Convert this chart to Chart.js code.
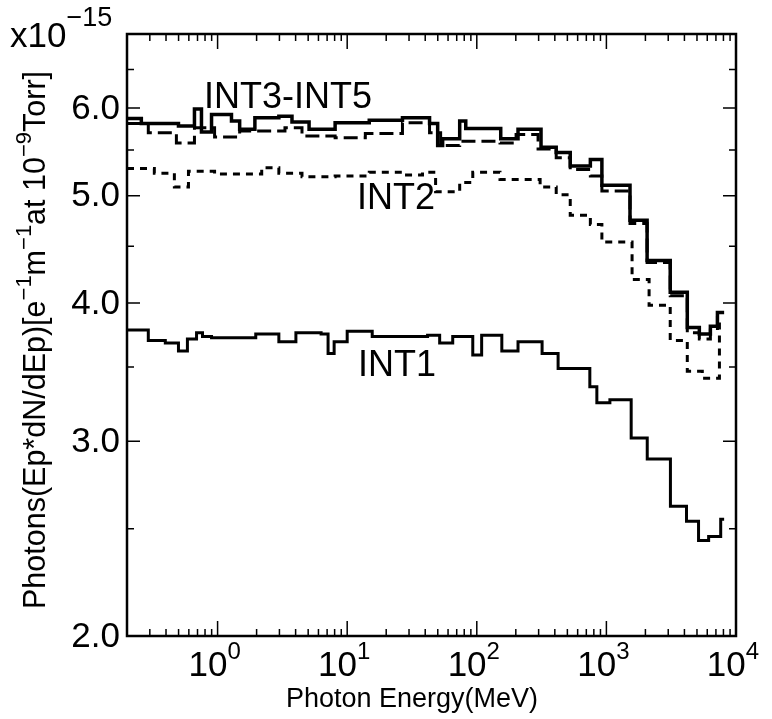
<!DOCTYPE html>
<html>
<head>
<meta charset="utf-8">
<script src="https://cdn.jsdelivr.net/npm/chart.js@4/dist/chart.umd.min.js"></script>
<style>
  html, body { margin: 0; padding: 0; background: #fff; }
</style>
</head>
<body>
<canvas id="photonChart" width="772" height="719"></canvas>
<script>
// photon spectra, values in units of 1e-15, bin edges in MeV

const int35Edges = [0.2, 0.258, 0.499, 0.663, 0.751, 0.898, 1.28, 1.48, 1.94, 2.97, 3.75, 5.08, 8.07, 14.8, 26.7, 43.2, 49.9, 54.5, 73.8, 82.2, 153, 208, 313, 410, 526, 752, 923, 1521, 2061, 3108, 4209, 5213, 6343, 7191, 8100];
const int35Values = [5.87, 5.81, 5.78, 5.99, 5.71, 5.92, 5.84, 5.74, 5.88, 5.90, 5.83, 5.74, 5.82, 5.85, 5.88, 5.81, 5.55, 5.63, 5.84, 5.75, 5.63, 5.74, 5.53, 5.47, 5.32, 5.39, 5.11, 4.75, 4.37, 4.09, 3.80, 3.75, 3.81, 3.92];

const int35bEdges = [0.2, 0.292, 0.481, 0.663, 0.948, 1.48, 3.31, 4.48, 8.07, 13.8, 26.7, 43.2, 52.6, 73.8, 151, 201, 297, 410, 526, 752, 923, 1521, 2061, 3108, 4209, 5213, 6343, 7191, 8100];
const int35bValues = [5.81, 5.70, 5.58, 5.76, 5.65, 5.72, 5.76, 5.66, 5.64, 5.69, 5.82, 5.70, 5.55, 5.60, 5.58, 5.68, 5.51, 5.41, 5.28, 5.21, 5.05, 4.72, 4.35, 4.06, 3.76, 3.71, 3.78, 3.88];

const int2Edges = [0.2, 0.325, 0.464, 0.596, 0.948, 2.19, 2.97, 4.48, 8.07, 14.8, 26.7, 38.1, 48.1, 73.8, 93.1, 151, 308, 410, 526, 752, 923, 1578, 2135, 3108, 4209, 5495, 7449, 8100];
const int2Values = [5.29, 5.24, 5.09, 5.26, 5.23, 5.30, 5.24, 5.20, 5.21, 5.25, 5.22, 5.25, 5.04, 5.14, 5.25, 5.17, 5.09, 5.01, 4.80, 4.71, 4.54, 4.20, 3.98, 3.70, 3.47, 3.42, 3.85];

const int1Edges = [0.2, 0.292, 0.395, 0.499, 0.585, 0.688, 0.765, 0.898, 1.97, 2.97, 4.02, 6.29, 7.12, 7.93, 10.0, 15.6, 41.7, 51.7, 65.2, 93.1, 109, 156, 208, 319, 424, 745, 844, 1064, 1553, 2066, 3119, 4150, 5140, 6150, 7620, 8100];
const int1Values = [3.78, 3.70, 3.68, 3.62, 3.71, 3.76, 3.73, 3.72, 3.75, 3.69, 3.76, 3.75, 3.60, 3.69, 3.77, 3.73, 3.74, 3.68, 3.73, 3.59, 3.74, 3.62, 3.69, 3.60, 3.49, 3.36, 3.25, 3.27, 3.02, 2.89, 2.62, 2.54, 2.44, 2.46, 2.55];

const yMajorTicks = [2, 3, 4, 5, 6];
const yMinorTicks = [2.5, 3.5, 4.5, 5.5, 6.5];
const xDecades = [1, 10, 100, 1000, 10000];
const xExponents = ["0", "1", "2", "3", "4"];

const FONT = '"Liberation Sans", Arial, Helvetica, sans-serif';

// histogram -> step points: value i holds from edge i to edge i+1
function steps(edges, values) {
  return edges.map((e, i) => ({ x: e, y: values[Math.min(i, values.length - 1)] }));
}

function drawSup(ctx, parts, x, y, big, small, rise) {
  // parts: [text, isSup]
  let cx = x;
  parts.forEach(([t, sup]) => {
    ctx.font = (sup ? small : big) + "px " + FONT;
    ctx.fillText(t, cx, sup ? y - rise : y);
    cx += ctx.measureText(t).width;
  });
  return cx - x;
}

function supWidth(ctx, parts, big, small) {
  let w = 0;
  parts.forEach(([t, sup]) => {
    ctx.font = (sup ? small : big) + "px " + FONT;
    w += ctx.measureText(t).width;
  });
  return w;
}

const framePlugin = {
  id: "frame",
  afterDraw(chart) {
    const { ctx, chartArea: a, scales } = chart;
    const xs = scales.x, ys = scales.y;
    ctx.save();
    ctx.strokeStyle = "#000";
    ctx.fillStyle = "#000";
    ctx.lineWidth = 2.5;
    ctx.strokeRect(a.left, a.top, a.right - a.left, a.bottom - a.top);

    // inward ticks on all four sides
    ctx.lineWidth = 1.5;
    ctx.beginPath();
    for (let d = 0.1; d <= 10000; d *= 10) {
      for (let m = 1; m <= 9; m++) {
        const v = m * d;
        if (v < 0.2 * 0.999 || v > 10000 * 1.001) continue;
        const px = xs.getPixelForValue(v);
        const len = m === 1 ? 15 : 7;
        ctx.moveTo(px, a.bottom); ctx.lineTo(px, a.bottom - len);
        ctx.moveTo(px, a.top); ctx.lineTo(px, a.top + len);
      }
    }
    yMajorTicks.concat(yMinorTicks).forEach(v => {
      const py = ys.getPixelForValue(v);
      const len = yMajorTicks.includes(v) ? 13 : 7;
      ctx.moveTo(a.left, py); ctx.lineTo(a.left + len, py);
      ctx.moveTo(a.right, py); ctx.lineTo(a.right - len, py);
    });
    ctx.stroke();

    // y tick labels
    ctx.font = "35px " + FONT;
    ctx.textAlign = "right";
    ctx.textBaseline = "middle";
    yMajorTicks.forEach(v => ctx.fillText(v.toFixed(1), a.left - 7, ys.getPixelForValue(v) + 1));

    // x tick labels 10^n
    ctx.textAlign = "left";
    ctx.textBaseline = "alphabetic";
    xDecades.forEach((v, i) => {
      const parts = [["10", false], [xExponents[i], true]];
      const w = supWidth(ctx, parts, 35, 24);
      const px = xs.getPixelForValue(v);
      drawSup(ctx, parts, px - w / 2 - 3, a.bottom + 40, 35, 24, 17);
    });

    // axis titles
    ctx.font = "27px " + FONT;
    ctx.textAlign = "center";
    ctx.fillText("Photon Energy(MeV)", 412, 707);

    ctx.textAlign = "left";
    drawSup(ctx, [["x10", false], ["\u221215", true]], 10, 47, 35, 27, 21);

    const yTitle = [["Photons(Ep*dN/dEp)[e", false], ["\u22121", true], ["m", false], ["\u22121", true],
      ["at 10", false], ["\u22129", true], ["Torr]", false]];
    ctx.save();
    ctx.translate(45, 340);
    ctx.rotate(-Math.PI / 2);
    const tw = supWidth(ctx, yTitle, 30.5, 22);
    drawSup(ctx, yTitle, -tw / 2, 0, 30.5, 22, 14);
    ctx.restore();

    // curve labels
    ctx.font = "36px " + FONT;
    ctx.fillText("INT3-INT5", 204, 108);
    ctx.fillText("INT2", 357, 209);
    ctx.fillText("INT1", 358, 376);
    ctx.restore();
  }
};

const lineStyle = { borderColor: "#000", borderWidth: 3, pointRadius: 0, fill: false, stepped: true, tension: 0 };

new Chart(document.getElementById("photonChart").getContext("2d"), {
  type: "line",
  data: {
    datasets: [
      { ...lineStyle, label: "INT3-INT5", data: steps(int35Edges, int35Values), borderWidth: 3.5 },
      { ...lineStyle, label: "INT3-INT5 (dashed)", data: steps(int35bEdges, int35bValues), borderDash: [14, 6] },
      { ...lineStyle, label: "INT2", data: steps(int2Edges, int2Values), borderDash: [7, 6] },
      { ...lineStyle, label: "INT1", data: steps(int1Edges, int1Values) }
    ]
  },
  options: {
    responsive: false,
    animation: false,
    layout: { padding: { left: 127, right: 36, top: 34, bottom: 83 } },
    plugins: { legend: { display: false }, tooltip: { enabled: false } },
    scales: {
      x: { type: "logarithmic", min: 0.2, max: 10000, display: false },
      y: { type: "logarithmic", min: 2, max: 7, display: false }
    }
  },
  plugins: [framePlugin]
});
</script>
</body>
</html>
